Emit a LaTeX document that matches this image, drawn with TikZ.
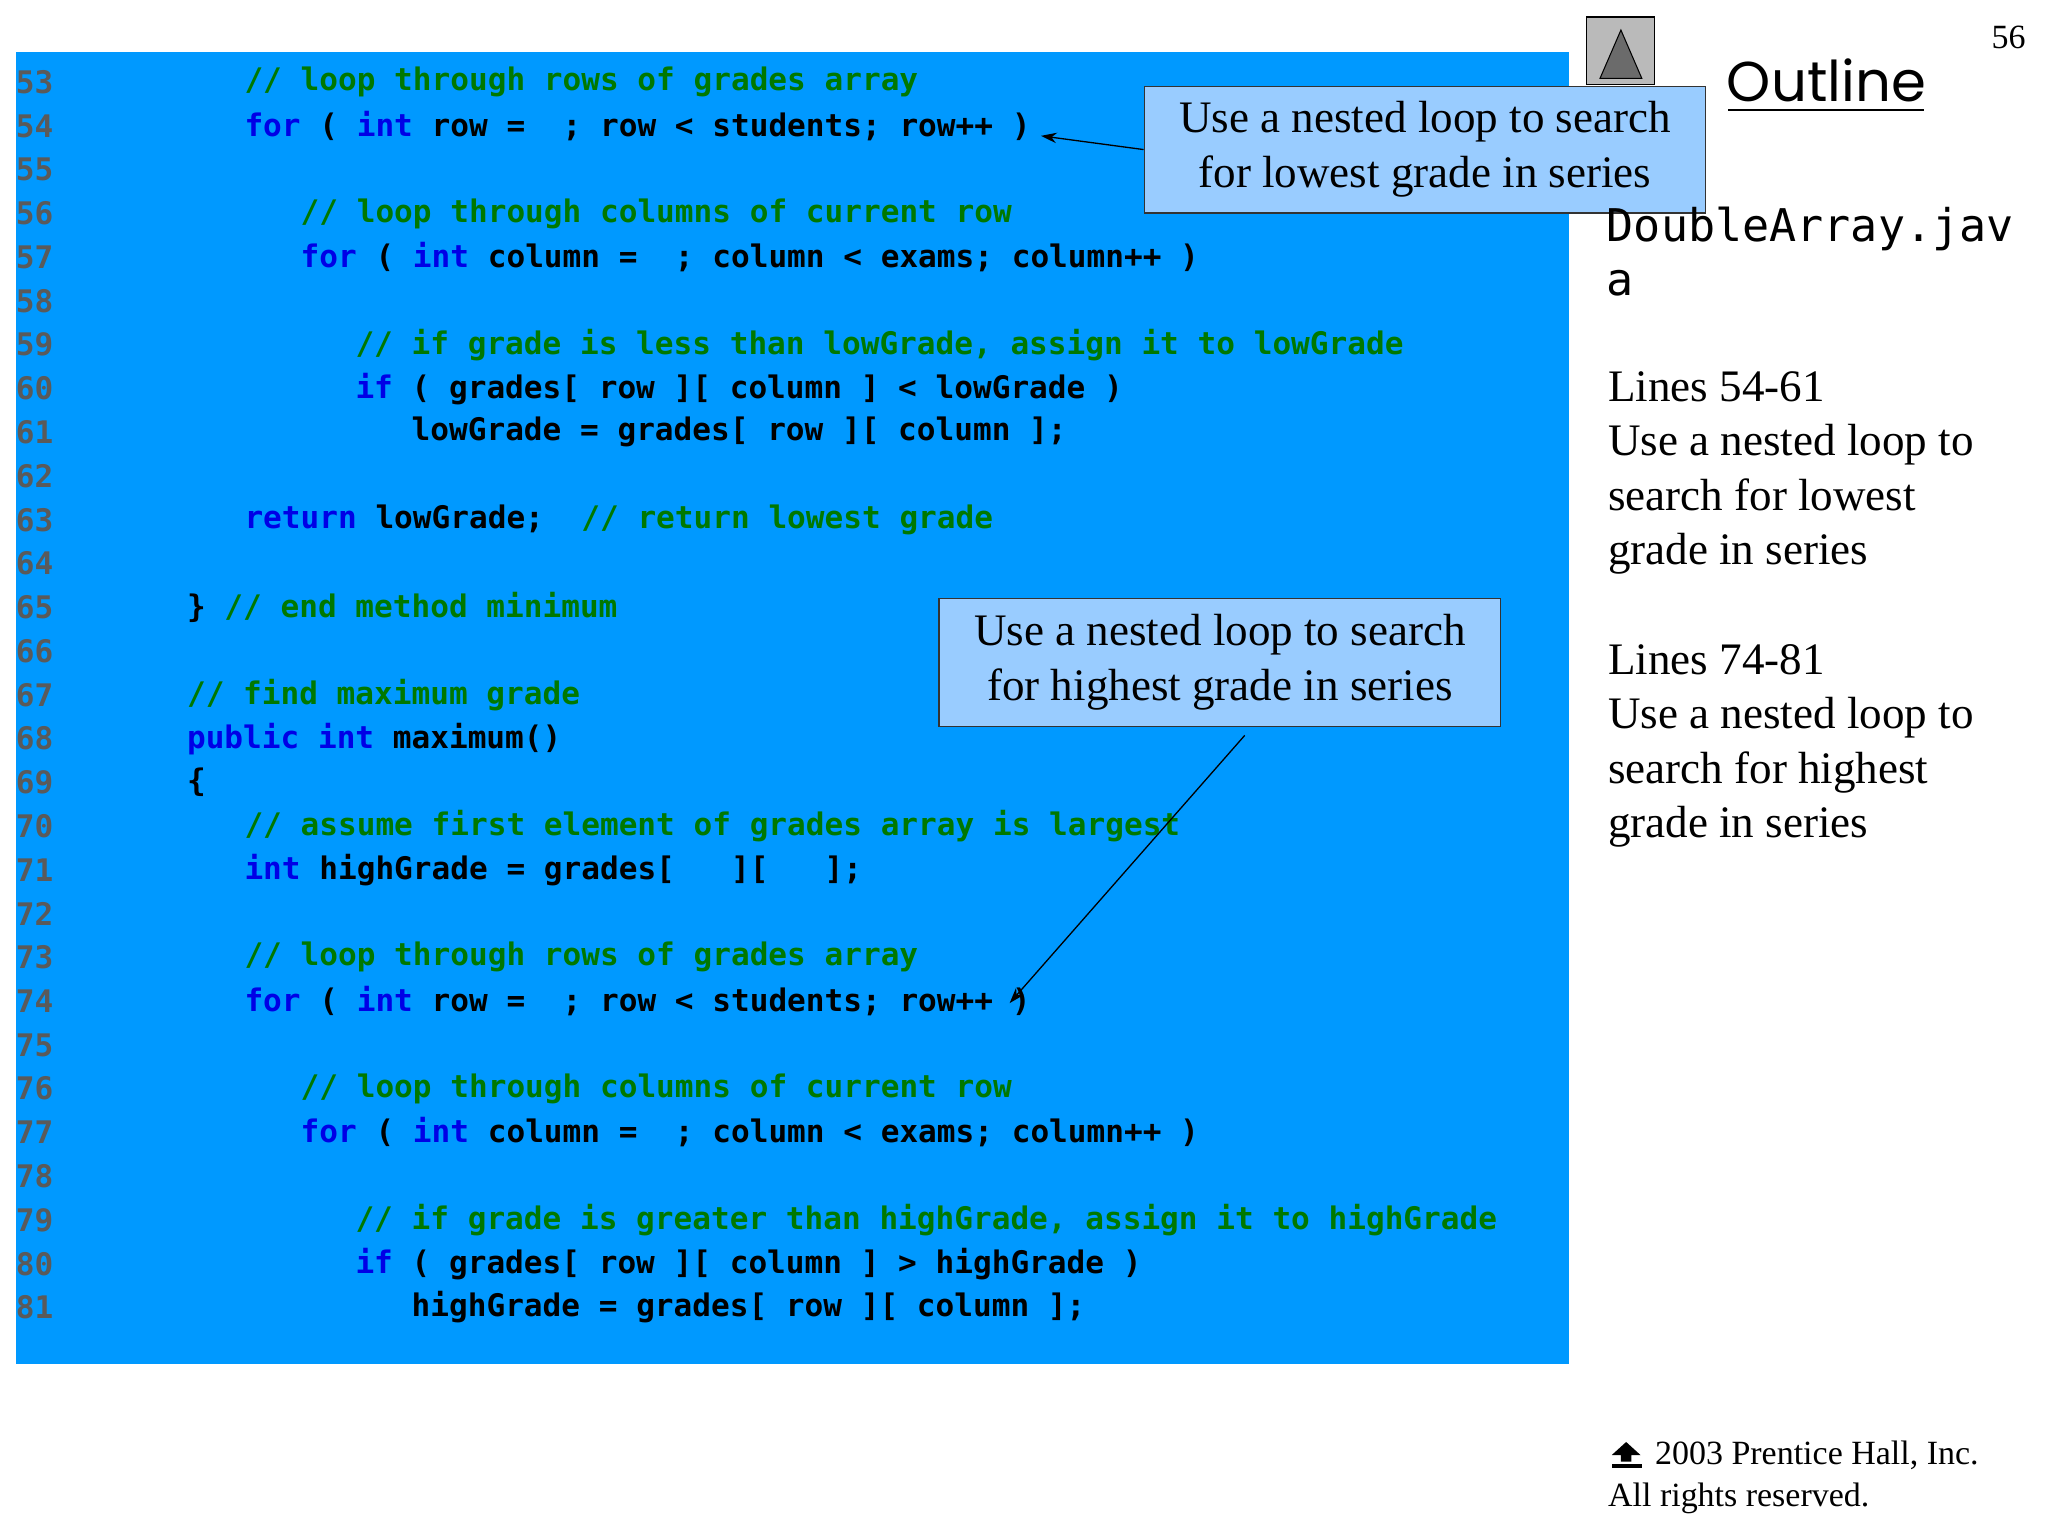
\documentclass[tikz,border=0pt]{standalone}
\usepackage{fontspec}
\setmainfont{Liberation Serif}
\newfontfamily\codefont{DejaVu Sans Mono}
\newfontfamily\outfont{Poppins}
\usetikzlibrary{arrows.meta}
\definecolor{bgblue}{RGB}{0,153,255}
\definecolor{kw}{RGB}{0,0,230}
\definecolor{cm}{RGB}{0,120,0}
\definecolor{ln}{RGB}{90,90,90}
\definecolor{callfill}{RGB}{153,204,255}
\tikzset{
 code/.style={anchor=west,inner sep=0,font=\codefont\bfseries\fontsize{23.8}{26}\selectfont},
 lnum/.style={code,text=ln},
 callout/.style={draw=black!80,line width=1pt,fill=callfill,align=center,font=\fontsize{34.5}{42}\selectfont,inner sep=0},
 side/.style={anchor=west,inner sep=0,text height=23pt,text depth=8pt,font=\fontsize{34.5}{38}\selectfont},
 arr/.style={-{Stealth[length=12pt,width=8pt]},line width=1pt}
}
\newcommand{\K}[1]{\textcolor{kw}{#1}}
\newcommand{\C}[1]{\textcolor{cm}{#1}}
\begin{document}
\begin{tikzpicture}[x=1pt,y=-1pt]
\useasboundingbox (0,0) rectangle (1568,1176);
\fill[bgblue] (12,40) rectangle (1201,1044);
\foreach \n [count=\i from 0] in {53,...,81}
  \node[lnum] (l\n) at (12,63+\i*33.5) {\n};
\def\A{143}\def\B{187}\def\Cc{230}\def\D{272}\def\E{315}
\node[code] (c53) at (\B,63) {\C{// loop through rows of grades array}};
\node[code] (c54) at (\B,96.5) {\K{for} ( \K{int} row =\ \ ; row < students; row++ )};
\node[code] (c56) at (\Cc,163.5) {\C{// loop through columns of current row}};
\node[code] (c57) at (\Cc,197) {\K{for} ( \K{int} column =\ \ ; column < exams; column++ )};
\node[code] (c59) at (\D,264) {\C{// if grade is less than lowGrade, assign it to lowGrade}};
\node[code] (c60) at (\D,297.5) {\K{if} ( grades[ row ][ column ] < lowGrade )};
\node[code] (c61) at (\E,331) {lowGrade = grades[ row ][ column ];};
\node[code] (c63) at (\B,398) {\K{return} lowGrade;\ \ \C{// return lowest grade}};
\node[code] (c65) at (\A,465) {\} \C{// end method minimum}};
\node[code] (c67) at (\A,532) {\C{// find maximum grade}};
\node[code] (c68) at (\A,565.5) {\K{public} \K{int} maximum()};
\node[code] (c69) at (\A,599) {\{};
\node[code] (c70) at (\B,632.5) {\C{// assume first element of grades array is largest}};
\node[code] (c71) at (\B,666) {\K{int} highGrade = grades[\ \ \ ][\ \ \ ];};
\node[code] (c73) at (\B,733) {\C{// loop through rows of grades array}};
\node[code] (c74) at (\B,766.5) {\K{for} ( \K{int} row =\ \ ; row < students; row++ )};
\node[code] (c76) at (\Cc,833.5) {\C{// loop through columns of current row}};
\node[code] (c77) at (\Cc,867) {\K{for} ( \K{int} column =\ \ ; column < exams; column++ )};
\node[code] (c79) at (\D,934) {\C{// if grade is greater than highGrade, assign it to highGrade}};
\node[code] (c80) at (\D,967.5) {\K{if} ( grades[ row ][ column ] > highGrade )};
\node[code] (c81) at (\E,1001) {highGrade = grades[ row ][ column ];};
% callouts
\node[callout,minimum width=430pt,minimum height=97pt] (co1) at (1091,114.5) {Use a nested loop to search\\for lowest grade in series};
\coordinate (t1) at (797,104);
\draw[arr] (co1.west) -- (t1);
\node[callout,minimum width=430pt,minimum height=98pt] (co2) at (934,507) {Use a nested loop to search\\for highest grade in series};
\coordinate (s2) at (953,563);
\coordinate (t2) at (773,768);
\draw[arr] (s2) -- (t2);
% outline header
\draw[fill=black!27,line width=0.8pt] (1215,13) rectangle (1267,65);
\draw[fill=black!58,line width=0.8pt] (1241,23) -- (1257,60) -- (1225,60) -- cycle;
\node[anchor=base west,inner sep=0,font=\outfont\fontsize{43}{48}\selectfont] (ol) at (1322,78) {Outline};
\draw[line width=1.2pt] (1323,84) -- (1473,84);
\node[anchor=base east,inner sep=0,font=\fontsize{26}{30}\selectfont] (pg) at (1551,37) {56};
\node[anchor=west,inner sep=0,font=\codefont\fontsize{34.5}{40}\selectfont] (fn1) at (1230,175) {DoubleArray.jav};
\node[anchor=west,inner sep=0,font=\codefont\fontsize{34.5}{40}\selectfont] (fn2) at (1230,217) {a};
\foreach \t [count=\i from 0] in {Lines 54-61,Use a nested loop to,search for lowest,grade in series}
  \node[side] (sa\i) at (1231,300+\i*41.6) {\t};
\foreach \t [count=\i from 0] in {Lines 74-81,Use a nested loop to,search for highest,grade in series}
  \node[side] (sb\i) at (1231,509+\i*41.6) {\t};
% footer
\fill (1234,1114) -- (1245,1104) -- (1256,1114) -- (1249,1114) -- (1249,1119) -- (1241,1119) -- (1241,1114) -- cycle;
\fill (1234,1121) rectangle (1257,1124);
\node[anchor=west,inner sep=0,font=\fontsize{26}{30}\selectfont] (f1) at (1267,1114) {2003 Prentice Hall, Inc.};
\node[anchor=west,inner sep=0,font=\fontsize{26}{30}\selectfont] (f2) at (1231,1147) {All rights reserved.};
\end{tikzpicture}
\end{document}
